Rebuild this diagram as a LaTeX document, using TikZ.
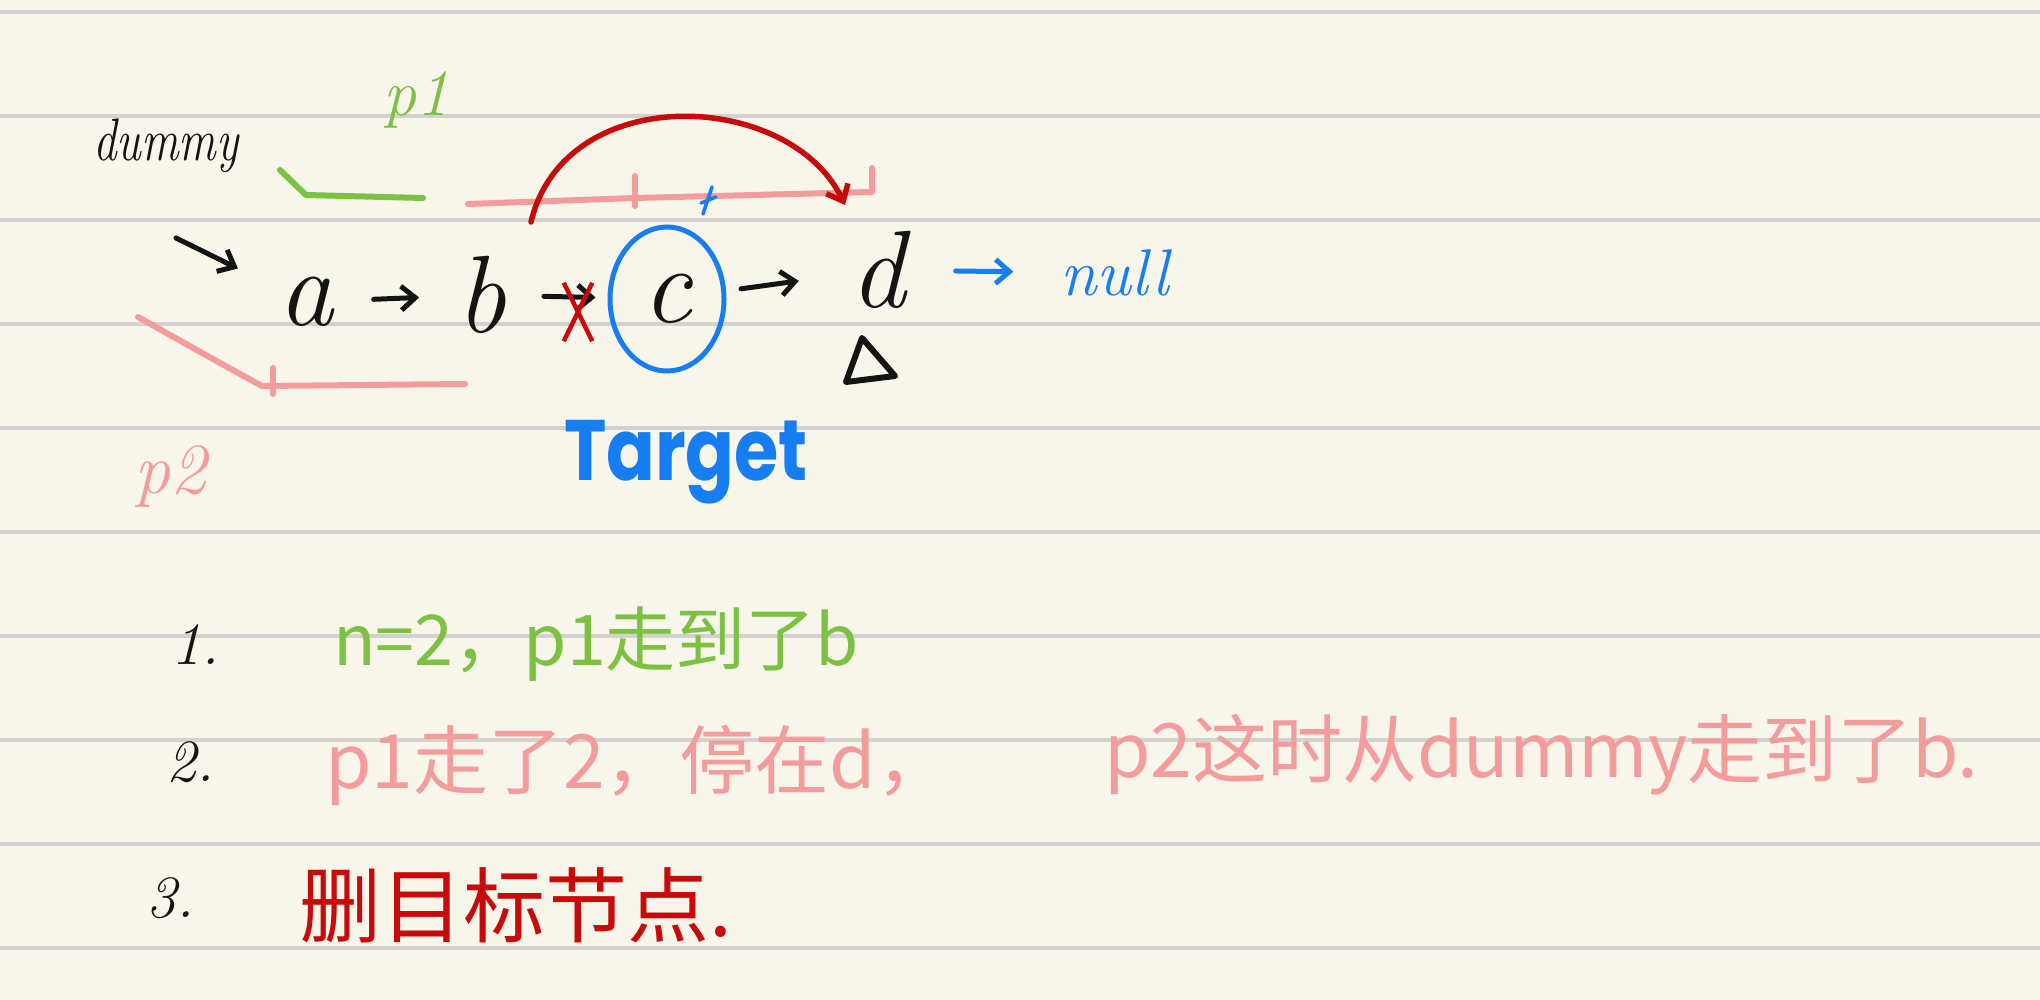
\documentclass[tikz,border=0pt]{standalone}
\usepackage{fontspec}
\usetikzlibrary{arrows.meta,positioning,shapes.geometric,shapes.misc}
\newfontfamily\cjk{Noto Sans CJK SC}
\newfontfamily\roundfont{Poppins}
\definecolor{Ink}{HTML}{141414}
\definecolor{Paper}{HTML}{F8F5EA}
\definecolor{Rule}{HTML}{D4D2CE}
\definecolor{Leaf}{HTML}{7DC142}
\definecolor{Rose}{HTML}{F49C9C}
\definecolor{Crimson}{HTML}{C70A0A}
\definecolor{Azure}{HTML}{167EF2}
\tikzset{
  letter/.style={inner sep=0pt, text=Ink, font=\fontsize{110}{110}\selectfont\itshape},
  smallword/.style={inner sep=0pt, font=\fontsize{60}{60}\selectfont\itshape},
  note/.style={inner sep=0pt, anchor=west, font=\fontsize{75}{80}\selectfont\cjk},
  numlabel/.style={inner sep=0pt, text=Ink, font=\fontsize{60}{60}\selectfont\itshape},
  link/.style={-{Straight Barb[length=14pt,width=24pt]}, line width=5pt, draw=Ink, line cap=round, line join=round},
  stroke/.style={line width=6pt, line cap=round, line join=round}
}
\begin{document}
\begin{tikzpicture}[x=1pt,y=-1pt]
    \useasboundingbox (0,0) rectangle (2040,1000);
    \fill[Paper] (0,0) rectangle (2040,1000);
    \foreach \y in {12,116,...,948} \draw[Rule, line width=4pt] (0,\y) -- (2040,\y);

    % the list
    \node[letter] (a) at (306,302) {a};
    \node[letter] (b) at (481,295) {b};
    \node[letter, ellipse, draw=Azure, line width=5pt, minimum width=114pt, minimum height=144pt] (c) at (667,299) {c};
    \node[letter] (d) at (878,270) {d};
    \node[smallword, text=Azure, font=\fontsize{66}{66}\selectfont\itshape] (null) at (1115,273) {null};
    \draw[link, shorten <=40pt, shorten >=37pt] (a) -- (b);
    \draw[link, shorten <=38pt, shorten >=12pt] (b) -- (c);
    \draw[link, shorten <=15pt, shorten >=52pt] (c) -- (d);
    \draw[link, draw=Azure, shorten <=50pt, shorten >=47pt] (d) -- (null);
    \node[cross out, draw=Crimson, line width=4.5pt, minimum width=24pt, minimum height=54pt, inner sep=0pt] (cut) at (578,312) {};
    \draw[Ink, stroke] (862,338) -- (846,382) -- (895,376) -- cycle;

    % dummy and the two pointers
    \node[smallword, text=Ink, font=\fontsize{60}{60}\selectfont\itshape] (dummy) at (166,146) {\scalebox{0.78}[1]{dummy}};
    \coordinate (dstart) at (176,238);
    \draw[link, shorten >=45pt] (dstart) -- (a);
    \node[smallword, text=Leaf, font=\fontsize{66}{66}\selectfont\itshape] (p1) at (416,100) {p1};
    \draw[Leaf, stroke] (280,170) -- (306,195) -- (423,198);
    \node[smallword, text=Rose, font=\fontsize{72}{72}\selectfont\itshape] (p2) at (170,477) {p2};
    \draw[Rose, stroke] (138,317) -- (220,363) -- (262,386) -- (465,384);
    \draw[Rose, stroke] (273,368) -- (273,394);
    \draw[Rose, stroke] (468,204) -- (635,198) -- (872,192) -- (872,168);
    \draw[Rose, stroke] (635,176) -- (635,206);
    \draw[Azure, line width=3.5pt, line cap=round] (712,187) -- (703,214) (701,203) -- (716,197);
    \coordinate (jumpfrom) at (531,222);
    \coordinate (jumpto) at (845,205);
    \draw[link, draw=Crimson, line width=5.5pt] (jumpfrom) .. controls (565,80) and (790,90) .. (jumpto);
    \node[font=\fontsize{78}{78}\selectfont\roundfont\bfseries, text=Azure, inner sep=0pt] (target) at (686,462) {\scalebox{0.92}[1.1]{Target}};

    % steps
    \node[numlabel] (n1) at (195,645) {1.};
    \node[note, text=Leaf, font=\fontsize{70}{75}\selectfont\cjk] (s1) at (333,644) {n=2，p1走到了b};
    \node[numlabel] (n2) at (190,762) {2.};
    \node[note, text=Rose] (s2) at (325,765) {p1走了2，停在d，};
    \node[note, text=Rose] (s2b) at (1104,755) {p2这时从dummy走到了b.};
    \node[numlabel] (n3) at (170,898) {3.};
    \node[note, text=Crimson, font=\fontsize{82}{84}\selectfont\cjk] (s3) at (299,905) {删目标节点.};
\end{tikzpicture}
\end{document}
